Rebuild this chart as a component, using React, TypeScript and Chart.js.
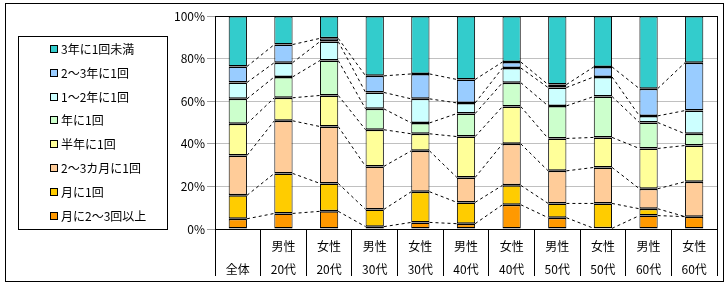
import React, { useEffect, useRef } from "react";
import { Chart, registerables } from "chart.js";

Chart.register(...registerables);

const categories: string[][] = [
  ["", "全体"],
  ["男性", "20代"],
  ["女性", "20代"],
  ["男性", "30代"],
  ["女性", "30代"],
  ["男性", "40代"],
  ["女性", "40代"],
  ["男性", "50代"],
  ["女性", "50代"],
  ["男性", "60代"],
  ["女性", "60代"],
];

// stacked bottom -> top
const seriesNames = [
  "月に2～3回以上",
  "月に1回",
  "2～3カ月に1回",
  "半年に1回",
  "年に1回",
  "1～2年に1回",
  "2～3年に1回",
  "3年に1回未満",
];

const seriesColors = [
  "#FF9900",
  "#FFCC00",
  "#FFCC99",
  "#FFFF99",
  "#CCFFCC",
  "#CCFFFF",
  "#99CCFF",
  "#33CCCC",
];

const s1 = [4.8, 7.3, 8.3, 1.1, 3.1, 2.5, 11.4, 5.3, 0.3, 6.3, 5.8];
const s2 = [11.0, 18.8, 13.1, 8.1, 14.4, 10.0, 9.1, 6.7, 11.7, 3.2, 0];
const s3 = [18.7, 24.7, 26.7, 20.2, 19.2, 11.7, 19.5, 15.3, 16.9, 9.4, 16.4];
const s4 = [14.9, 10.8, 14.6, 17.2, 8.0, 19.2, 17.5, 15.2, 14.1, 18.9, 17.0];
const s5 = [11.7, 9.8, 16.4, 9.8, 5.1, 10.8, 11.2, 15.3, 19.2, 12.2, 5.5];
const s6 = [7.7, 6.7, 8.9, 7.7, 11.3, 5.0, 6.9, 8.6, 9.2, 3.1, 10.9];
const s7 = [7.5, 8.5, 1.5, 7.8, 11.7, 11.0, 2.8, 1.4, 4.7, 12.8, 22.5];
const s8 = [23.7, 13.4, 10.5, 28.1, 27.2, 29.8, 21.6, 32.2, 23.9, 34.1, 21.9];

const seriesValues = [s1, s2, s3, s4, s5, s6, s7, s8];

const yTicks = [0, 20, 40, 60, 80, 100];

const FONT = '"Noto Sans CJK JP", "Noto Sans", sans-serif';

const decorPlugin = {
  id: "decor",
  afterDatasetsDraw(chart: any) {
    const ctx = chart.ctx;
    const n = chart.data.datasets.length;
    ctx.save();
    ctx.strokeStyle = "#000";
    ctx.lineWidth = 1;
    ctx.setLineDash([3, 3]);
    for (let d = 0; d < n - 1; d++) {
      const meta = chart.getDatasetMeta(d);
      const els = meta.data;
      for (let i = 0; i < els.length - 1; i++) {
        const a = els[i];
        const b = els[i + 1];
        ctx.beginPath();
        ctx.moveTo(a.x + a.width / 2, a.y);
        ctx.lineTo(b.x - b.width / 2, b.y);
        ctx.stroke();
      }
    }
    ctx.setLineDash([]);
    const ca = chart.chartArea;
    ctx.strokeRect(
      Math.round(ca.left) + 0.5,
      Math.round(ca.top) + 0.5,
      Math.round(ca.right - ca.left),
      Math.round(ca.bottom - ca.top)
    );
    ctx.restore();
  },
  afterDraw(chart: any) {
    const ctx = chart.ctx;
    ctx.save();
    ctx.strokeStyle = "#000";
    ctx.lineWidth = 1;
    // outer frame
    ctx.strokeRect(5.5, 3.5, 718, 278);
    // legend box
    ctx.strokeRect(18.5, 36.5, 149, 193);
    const ds = chart.data.datasets;
    ctx.font = "12px " + FONT;
    ctx.textBaseline = "middle";
    ctx.textAlign = "left";
    const startY = 49;
    const step = 23.8;
    for (let k = 0; k < ds.length; k++) {
      const d = ds[ds.length - 1 - k];
      const y = Math.round(startY + k * step);
      ctx.fillStyle = d.backgroundColor;
      ctx.fillRect(50, y - 4, 7, 7);
      ctx.strokeRect(50.5, y - 3.5, 7, 7);
      ctx.fillStyle = "#000";
      ctx.fillText(d.label, 61, y);
    }
    ctx.restore();
  },
};

export default function App() {
  const ref = useRef<HTMLCanvasElement | null>(null);
  useEffect(() => {
    if (!ref.current) return;
    const chart = new Chart(ref.current, {
      type: "bar",
      data: {
        labels: categories,
        datasets: seriesNames.map((name, i) => ({
          label: name,
          data: seriesValues[i],
          backgroundColor: seriesColors[i],
          borderColor: "#000",
          borderWidth: { top: 1.5, bottom: 1.5, left: 1, right: 1 },
          borderSkipped: false,
          inflateAmount: 0,
          categoryPercentage: 1,
          barPercentage: 0.4,
        })),
      },
      options: {
        responsive: false,
        animation: false,
        devicePixelRatio: 1,
        layout: { padding: { left: 0, right: 11, top: 16, bottom: 0 } },
        plugins: {
          legend: { display: false },
          tooltip: { enabled: false },
        },
        scales: {
          x: {
            stacked: true,
            offset: true,
            afterFit: (s: any) => {
              s.height = 57;
            },
            grid: {
              offset: true,
              drawOnChartArea: false,
              drawTicks: true,
              tickLength: 47,
              color: "#000",
              tickColor: "#000",
            },
            border: { display: true, color: "#000" },
            ticks: {
              autoSkip: false,
              maxRotation: 0,
              minRotation: 0,
              padding: -41,
              color: "#000",
              font: { family: FONT, size: 12, lineHeight: "23px" as any },
            },
          },
          y: {
            stacked: true,
            min: 0,
            max: 100,
            afterFit: (s: any) => {
              s.width = 215;
            },
            afterBuildTicks: (s: any) => {
              s.ticks = yTicks.map((v) => ({ value: v }));
            },
            grid: {
              color: "#C0C0C0",
              tickColor: "#A0A0A0",
              tickLength: 8,
            },
            border: { display: true, color: "#000" },
            ticks: {
              padding: 2,
              color: "#000",
              font: { family: FONT, size: 12 },
              callback: (v: any) => v + "%",
            },
          },
        },
      },
      plugins: [decorPlugin],
    });
    return () => chart.destroy();
  }, []);
  return (
    <div
      style={{
        position: "fixed",
        left: 0,
        top: 0,
        width: 728,
        height: 286,
        background: "#fff",
      }}
    >
      <canvas ref={ref} width={728} height={286} />
    </div>
  );
}
